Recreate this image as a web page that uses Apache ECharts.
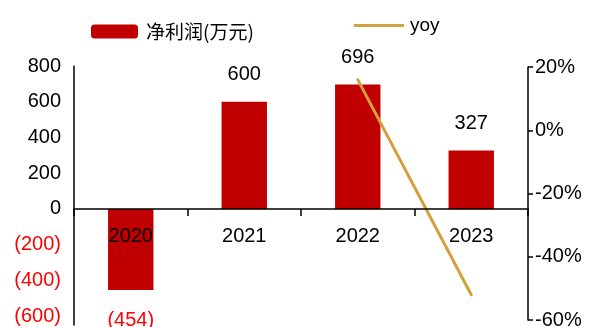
<!DOCTYPE html>
<html>
<head>
<meta charset="utf-8">
<script src="https://cdn.jsdelivr.net/npm/echarts@6/dist/echarts.min.js"></script>
<style>
  html, body { margin: 0; padding: 0; background: #fff; }
  #chart { width: 593px; height: 327px; }
</style>
</head>
<body>
<div id="chart"></div>
<script>
// Net profit (10k CNY) per year and its year-over-year change
const years = ['2020', '2021', '2022', '2023'];
const netProfit = [-454, 600, 696, 327];
const yoy = [null, null, 16, -52];
const profitTicks = [-600, -400, -200, 0, 200, 400, 600, 800];
const yoyTicks = [-60, -40, -20, 0, 20];

const FONT = '"Liberation Sans", Arial, sans-serif';
const RED = '#C00000';
const GOLD = '#D4A03C';

// Plot area of the bar grid and the left axis extent
const GRID_TOP = 66, GRID_BOTTOM = 2, CHART_H = 327;
const PROFIT_MIN = -650, PROFIT_MAX = 800;
// Category axis sits on the zero line of the profit axis
const plotH = CHART_H - GRID_TOP - GRID_BOTTOM;
const zeroFromBottom = plotH * (0 - PROFIT_MIN) / (PROFIT_MAX - PROFIT_MIN);

// Negative amounts are shown in parentheses, in red
const fmtAmount = v => (v < 0 ? '(' + (-v) + ')' : String(v));

const barData = netProfit.map(v => ({
  value: v,
  label: v < 0
    ? { position: 'bottom', distance: 20, color: '#FF0000' }
    : { position: 'top', distance: 17, color: '#000' }
}));

const chart = echarts.init(document.getElementById('chart'), null, { renderer: 'canvas' });

chart.setOption({
  animation: false,
  backgroundColor: '#fff',
  textStyle: { fontFamily: FONT },
  legend: [
    {
      data: ['净利润(万元)'],
      left: 86, top: 17,
      itemWidth: 47, itemHeight: 14,
      itemGap: 0,
      textStyle: { fontFamily: '"Noto Sans CJK SC", sans-serif', fontSize: 19, color: '#000', padding: [0, 0, 0, 3] }
    },
    {
      data: [{ name: 'yoy', icon: 'rect' }],
      left: 349, top: 11,
      itemWidth: 50, itemHeight: 3,
      textStyle: { fontFamily: FONT, fontSize: 19, color: '#000', padding: [0, 0, 0, 1] }
    }
  ],
  grid: [
    { left: 74, right: 65, top: GRID_TOP, bottom: GRID_BOTTOM, outerBoundsMode: 'none', containLabel: false },
    { left: 74, right: 65, top: 67, bottom: 7, outerBoundsMode: 'none', containLabel: false }
  ],
  xAxis: [
    {
      type: 'category',
      gridIndex: 0,
      data: years,
      z: 10,
      position: 'bottom',
      offset: -zeroFromBottom,
      axisLine: { onZero: false, lineStyle: { color: '#000', width: 1.5 } },
      axisTick: { show: true, length: 7, lineStyle: { color: '#000', width: 1.5 } },
      axisLabel: { fontFamily: FONT, fontSize: 20, color: '#000', margin: 18 },
      splitLine: { show: false }
    },
    {
      type: 'category',
      gridIndex: 1,
      data: years,
      show: false
    }
  ],
  yAxis: [
    {
      type: 'value',
      gridIndex: 0,
      min: PROFIT_MIN,
      max: PROFIT_MAX,
      interval: 50,
      axisLine: { show: true, onZero: false, lineStyle: { color: '#000', width: 1.5 } },
      axisTick: { show: false },
      splitLine: { show: false },
      axisLabel: {
        fontFamily: FONT,
        fontSize: 20,
        color: '#000',
        margin: 13,
        formatter: v => {
          if (profitTicks.indexOf(v) < 0) return '';
          return v < 0 ? '{neg|' + fmtAmount(v) + '}' : fmtAmount(v);
        },
        rich: { neg: { color: '#FF0000', fontFamily: FONT, fontSize: 20 } }
      }
    },
    {
      type: 'value',
      gridIndex: 1,
      position: 'right',
      min: yoyTicks[0],
      max: yoyTicks[yoyTicks.length - 1],
      interval: 20,
      axisLine: { show: true, onZero: false, lineStyle: { color: '#000', width: 1.5 } },
      axisTick: { show: true, inside: false, length: 5, lineStyle: { color: '#000', width: 1.5 } },
      splitLine: { show: false },
      axisLabel: { fontFamily: FONT, fontSize: 20, color: '#000', margin: 7, formatter: '{value}%' }
    }
  ],
  series: [
    {
      name: '净利润(万元)',
      type: 'bar',
      xAxisIndex: 0,
      yAxisIndex: 0,
      barWidth: '40%',
      itemStyle: { color: RED },
      label: {
        show: true,
        fontFamily: FONT,
        fontSize: 20,
        formatter: p => fmtAmount(p.value)
      },
      data: barData
    },
    {
      name: 'yoy',
      type: 'line',
      xAxisIndex: 1,
      yAxisIndex: 1,
      symbol: 'none',
      connectNulls: false,
      lineStyle: { color: GOLD, width: 3, cap: 'round' },
      itemStyle: { color: GOLD },
      z: 5,
      data: yoy
    }
  ]
});
</script>
</body>
</html>
